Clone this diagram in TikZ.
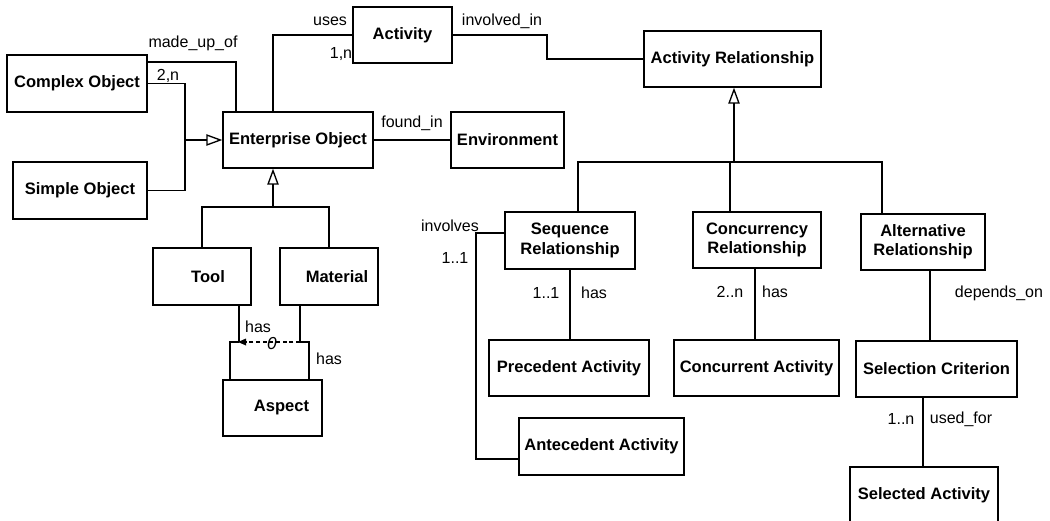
\documentclass[tikz,border=0pt]{standalone}
\usepackage{fontspec}
\setmainfont{Liberation Sans}
\usetikzlibrary{arrows.meta}
\begin{document}
\begin{tikzpicture}[x=0.75pt, y=-0.75pt,
  box/.style={draw, line width=1pt, font=\fontsize{12.4}{14.5}\selectfont\bfseries, align=center, inner sep=0pt},
  sz/.style 2 args={minimum width=#1*0.75pt, minimum height=#2*0.75pt},
  lbl/.style={font=\fontsize{12}{14}\selectfont, inner sep=0pt},
  conn/.style={line width=1pt},
  gen/.style={conn, -{Triangle[open, length=12pt, width=8.5pt]}},
]
\useasboundingbox (0,0) rectangle (1050,521);

% classes
\node[box, sz={140}{57}] (complex)    at (77,83.5)    {Complex Object};
\node[box, sz={134}{57}] (simple)     at (80,190.5)   {Simple Object};
\node[box, sz={150}{56}] (enterprise) at (298,140)    {Enterprise Object};
\node[box, sz={99}{56}]  (activity)   at (402.5,35)   {Activity};
\node[box, sz={113}{56}] (environment) at (507.5,140) {Environment};
\node[box, sz={177}{56}] (actrel)     at (732.5,59)   {Activity Relationship};
\node[box, sz={98}{57}]  (tool)       at (202,276.5)  {\hspace*{9pt}Tool};
\node[box, sz={98}{57}]  (material)   at (329,276.5)  {\hspace*{12pt}Material};
\node[box, sz={99}{56}]  (aspect)     at (272.5,408)  {\hspace*{13.5pt}Aspect};
\node[box, sz={130}{57}] (seqrel)     at (570,240.5)  {Sequence\\Relationship};
\node[box, sz={128}{56}] (concrel)    at (757,240)    {Concurrency\\Relationship};
\node[box, sz={124}{56}] (altrel)     at (923,242)    {Alternative\\Relationship};
\node[box, sz={160}{56}] (precedent)  at (569,368)    {Precedent Activity};
\node[box, sz={165}{56}] (concurrent) at (756.5,368)  {Concurrent Activity};
\node[box, sz={161}{56}] (selcrit)    at (936.5,369)  {Selection Criterion};
\node[box, sz={165}{57}] (antecedent) at (601.5,446.5) {Antecedent Activity};
\node[box, sz={148}{56}] (selected)   at (924,495)    {Selected Activity};

% enterprise object associations
\draw[conn] (complex.east |- 0,62) -| (enterprise.north -| 236,0);
\draw[conn] (complex.east) -| (185,0 |- simple.east) -- (simple.east);
\draw[gen] (185,0 |- enterprise.west) -- (enterprise.west);
\draw[conn] (enterprise.north -| 273,0) |- (activity.west);
\draw[conn] (enterprise.east) -- (environment.west);
\draw[conn] (activity.east) -| (547,0 |- actrel.west) -- (actrel.west);

% specialisations of enterprise object
\draw[gen] (273,207) -- (enterprise.south -| 273,0);
\draw[conn] (tool.north -| 202,0) |- (329,207) -- (material.north -| 329,0);

% tool / material have aspect
\draw[conn] (tool.south -| 239,0) -- (239,342);
\draw[conn] (material.south -| 300,0) -- (300,342);
\draw[conn] (aspect.north -| 230,0) |- (239,342);
\draw[conn] (300,342) -- (309,342) -- (aspect.north -| 309,0);
\draw[conn, densely dashed] (300,342) -- (244,342);
\fill (238,342) -- (246,338.5) -- (246,345.5) -- cycle;
\node[font=\fontsize{13}{14}\selectfont\itshape, inner sep=0pt] (zero) at (272,344) {0};

% specialisations of activity relationship
\draw[gen] (734,162) -- (actrel.south -| 734,0);
\draw[conn] (seqrel.north -| 578,0) |- (882,162) -- (altrel.north -| 882,0);
\draw[conn] (730,162) -- (concrel.north -| 730,0);

% relationship associations
\draw[conn] (seqrel.west |- 0,233) -| (476,459) -- (antecedent.west |- 0,459);
\draw[conn] (seqrel.south -| 570,0) -- (precedent.north -| 570,0);
\draw[conn] (concrel.south -| 755,0) -- (concurrent.north -| 755,0);
\draw[conn] (altrel.south -| 930,0) -- (selcrit.north -| 930,0);
\draw[conn] (selcrit.south -| 923,0) -- (selected.north -| 923,0);

% role names and cardinalities
\node[lbl] (l1)  at (193,43)  {made\_up\_of};
\node[lbl] (l2)  at (168,76)  {2,n};
\node[lbl] (l3)  at (330,21)  {uses};
\node[lbl] (l4)  at (341,54)  {1,n};
\node[lbl] (l5)  at (412,123) {found\_in};
\node[lbl] (l6)  at (502,21)  {involved\_in};
\node[lbl] (l7)  at (258,327) {has};
\node[lbl] (l8)  at (329,359) {has};
\node[lbl] (l9)  at (450,226) {involves};
\node[lbl] (l10) at (455,258) {1..1};
\node[lbl] (l11) at (546,293) {1..1};
\node[lbl] (l12) at (594,293) {has};
\node[lbl] (l13) at (730,292) {2..n};
\node[lbl] (l14) at (775,292) {has};
\node[lbl] (l15) at (999,293) {depends\_on};
\node[lbl] (l16) at (901,419) {1..n};
\node[lbl] (l17) at (961,419) {used\_for};
\end{tikzpicture}
\end{document}
